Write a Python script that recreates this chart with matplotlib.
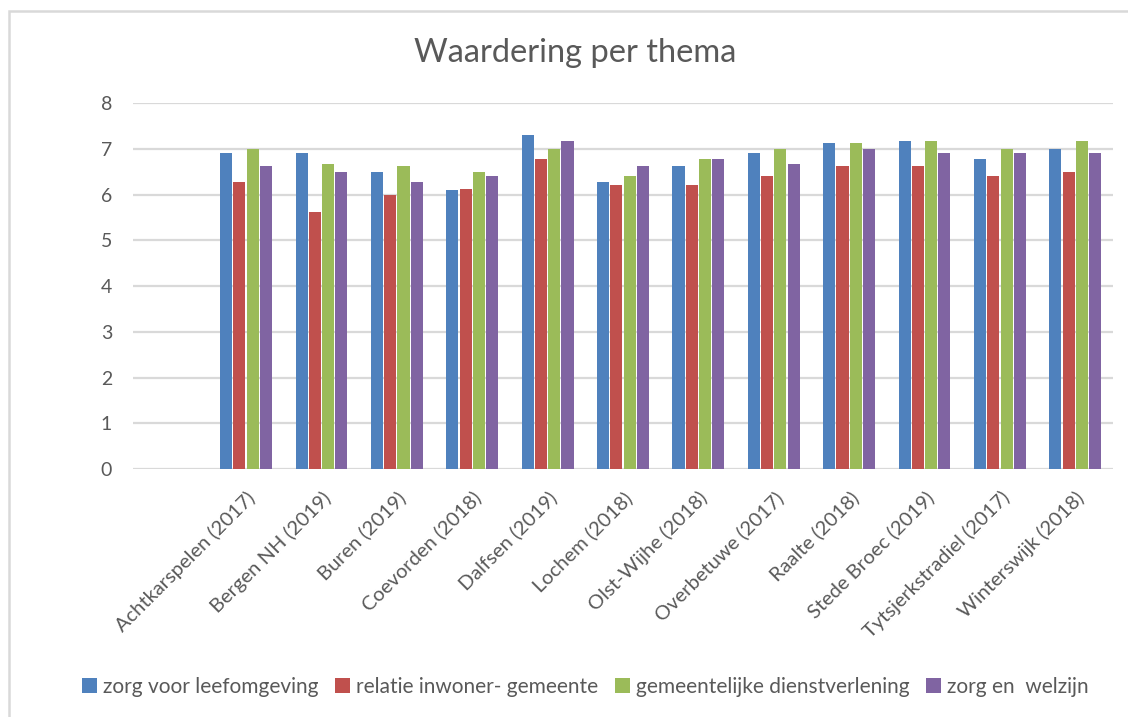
import matplotlib
matplotlib.use("Agg")
import matplotlib.pyplot as plt
import numpy as np
from matplotlib.patches import Rectangle

# data
gemeenten = ["Achtkarspelen (2017)", "Bergen NH (2019)", "Buren (2019)", "Coevorden (2018)",
             "Dalfsen (2019)", "Lochem (2018)", "Olst-Wijhe (2018)", "Overbetuwe (2017)",
             "Raalte (2018)", "Stede Broec (2019)", "Tytsjerkstradiel (2017)", "Winterswijk (2018)"]
leefomgeving = [6.9, 6.9, 6.5, 6.1, 7.3, 6.27, 6.62, 6.9, 7.12, 7.16, 6.77, 7.0]
relatie = [6.27, 5.62, 6.0, 6.12, 6.77, 6.2, 6.2, 6.4, 6.62, 6.62, 6.4, 6.5]
dienstverlening = [7.0, 6.66, 6.62, 6.5, 7.0, 6.4, 6.77, 7.0, 7.12, 7.16, 7.0, 7.16]
welzijn = [6.62, 6.5, 6.27, 6.4, 7.16, 6.62, 6.77, 6.66, 7.0, 6.9, 6.9, 6.9]

series = [("zorg voor leefomgeving", leefomgeving, "#4F81BD"),
          ("relatie inwoner- gemeente", relatie, "#C0504D"),
          ("gemeentelijke dienstverlening", dienstverlening, "#9BBB59"),
          ("zorg en  welzijn", welzijn, "#8064A2")]

plt.rcParams['font.family'] = ['Lato', 'DejaVu Sans']
tekst = '#595959'

fig = plt.figure(figsize=(11.28, 7.17), dpi=100)
ax = fig.add_axes([0.1179, 0.3459, 0.8688, 0.5104])

x = np.arange(len(gemeenten))
stap = 0.176
breedte = 0.16
for i, (naam, waarden, kleur) in enumerate(series):
    ax.bar(x + (i - 1.5) * stap, waarden, width=breedte, color=kleur, label=naam, zorder=3)

ax.set_xlim(-1.5, len(gemeenten) - 0.5)  # lege eerste categorie zoals in het origineel
ax.set_ylim(0, 8)
ax.set_yticks(range(0, 9))
ax.yaxis.grid(True, color='#d9d9d9', linewidth=1.6, zorder=0)
ax.tick_params(axis='y', length=0, pad=15, labelsize=14, labelcolor=tekst)
ax.tick_params(axis='x', length=0, pad=14)
ax.set_xticks(x)
ax.set_xticklabels(gemeenten, rotation=45, ha='right', rotation_mode='anchor',
                   fontsize=14.5, color=tekst)
for s in ax.spines.values():
    s.set_visible(False)

fig.text(0.51, 0.926, "Waardering per thema", ha='center', va='center', fontsize=23.5, color=tekst)

handles, labels = ax.get_legend_handles_labels()
fig.legend(handles, labels, loc='center', bbox_to_anchor=(0.519, 0.042), ncol=4, frameon=False,
           fontsize=15, labelcolor=tekst, handlelength=0.7, handleheight=0.7,
           handletextpad=0.3, columnspacing=0.8)

# rand van het grafiekgebied
fig.patches.append(Rectangle((9 / 1128, -0.1), 1.2, 1.1 - 11 / 717, transform=fig.transFigure,
                             fill=False, edgecolor='#d9d9d9', linewidth=1.8))

fig.savefig("out.png", dpi=100)
